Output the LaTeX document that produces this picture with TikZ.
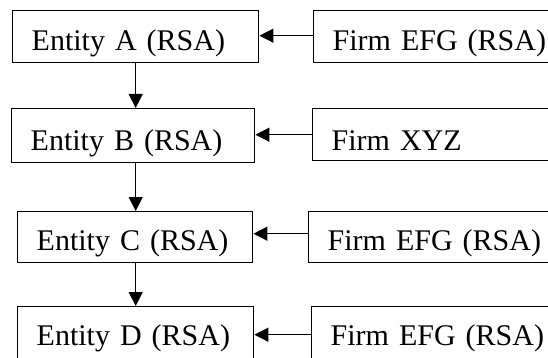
\documentclass[tikz,border=0pt]{standalone}
\usepackage{fontspec}
\setmainfont{Liberation Serif}
\usetikzlibrary{arrows.meta}
\tikzset{
  box/.style={draw, line width=1.4pt, rectangle, anchor=north west,
    inner xsep=19pt, inner ysep=0pt, align=left,
    font=\fontsize{30}{36}\selectfont},
  firmbox/.style={box, text width=235pt},
  link/.style={line width=1.3pt, -{Triangle[length=14pt,width=14pt]}}
}
\begin{document}
\begin{tikzpicture}[x=1pt,y=-1pt]
  \fill[white] (0,0) rectangle (548,358);
  \path[use as bounding box, clip] (0,0) rectangle (548,358);

  % entity chain on the left
  \node[box, text width=208pt, text height=40pt, text depth=12pt] (A) at (12,10) {Entity A (RSA)};
  \node[box, text width=205pt, text height=42pt, text depth=12pt] (B) at (11,108) {Entity B (RSA)};
  \node[box, text width=197pt, text height=38.5pt, text depth=12.5pt] (C) at (17,211) {Entity C (RSA)};
  \node[box, text width=198pt, text height=39pt, text depth=17pt] (D) at (17,306) {Entity D (RSA)};

  % firms on the right, running past the right edge
  \node[firmbox, text height=40pt, text depth=12pt] (FA) at (313,10) {Firm EFG (RSA)};
  \node[firmbox, text height=42pt, text depth=10pt] (FB) at (312,108) {Firm XYZ};
  \node[firmbox, text height=39pt, text depth=12pt] (FC) at (308,211) {Firm EFG (RSA)};
  \node[firmbox, text height=39pt, text depth=17pt] (FD) at (311,306) {Firm EFG (RSA)};

  % downward links
  \draw[link] (A.south) -- (A.south |- B.north);
  \draw[link] (A.south |- B.south) -- (A.south |- C.north);
  \draw[link] (A.south |- C.south) -- (A.south |- D.north);

  % links from the firms
  \draw[link] ([yshift=1pt]FA.west) -- ([yshift=1pt]FA.west -| A.east);
  \draw[link] (FB.west) -- (FB.west -| B.east);
  \draw[link] ([yshift=3.5pt]FC.west) -- ([yshift=3.5pt]FC.west -| C.east);
  \draw[link] (FD.west) -- (FD.west -| D.east);
\end{tikzpicture}
\end{document}
